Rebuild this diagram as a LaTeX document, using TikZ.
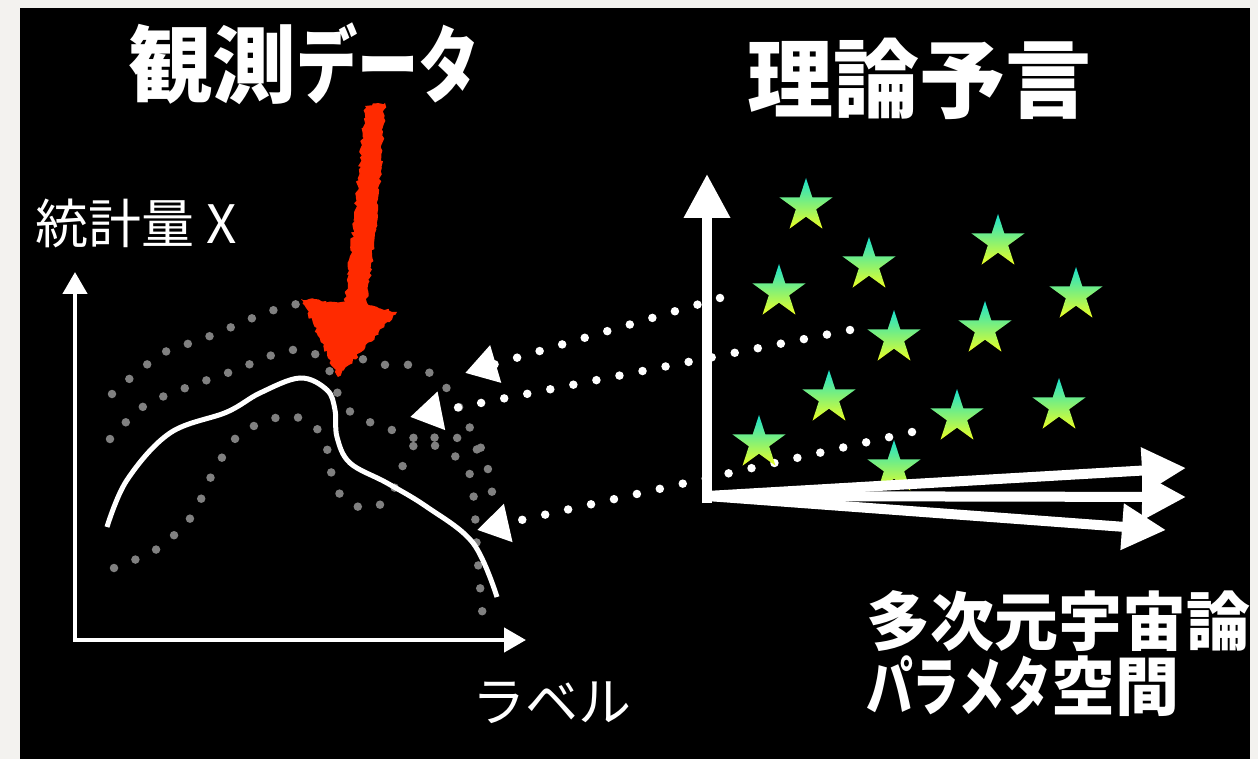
\documentclass[tikz,border=0pt]{standalone}
\usepackage{fontspec}
\usepackage{tikz}
\usetikzlibrary{arrows.meta}
\usetikzlibrary{shapes.geometric}
\usetikzlibrary{decorations.pathmorphing}
\usetikzlibrary{calc}

\newfontfamily\jpfont{Noto Sans CJK JP}
\newcommand{\narrowkana}[1]{\scalebox{0.73}[1]{#1}}

\definecolor{paper}{RGB}{243,242,239}
\definecolor{chalkred}{RGB}{255,42,0}
\definecolor{dotgray}{RGB}{128,128,128}
\definecolor{startop}{RGB}{25,225,205}
\definecolor{starbot}{RGB}{235,255,35}

\tikzset{
  bigtitle/.style={text=white, inner sep=0pt, font=\jpfont\bfseries\fontsize{84}{84}\selectfont},
  axistext/.style={text=white, inner sep=0pt, font=\jpfont\fontsize{53}{53}\selectfont},
  starnode/.style={star, star points=5, star point ratio=2.618, minimum size=56pt,
    inner sep=0pt, top color=startop, bottom color=starbot},
  graydots/.style={dotgray, line width=8.5pt, line cap=round, dash pattern=on 0pt off 23pt},
  whitedots/.style={white, line width=8.5pt, line cap=round, dash pattern=on 0pt off 23.5pt,
    -{Triangle[length=32pt,width=37pt]}},
  thinaxis/.style={white, line width=4.5pt, line cap=rect, -{Triangle[length=22pt,width=24pt]}},
  fataxis/.style={white, line width=10pt, -{Triangle[length=44pt,width=44pt]}},
}

\begin{document}
\begin{tikzpicture}[x=1pt, y=-1pt]
\useasboundingbox (0,0) rectangle (1258,759);
\fill[paper] (0,0) rectangle (1258,759);
\fill[black] (20,8) rectangle (1250,759);

%model curves
\draw[graydots] plot[smooth] coordinates {(112,394) (140,370) (167,351) (200,340) (234,326)
  (268,312) (302,304) (330,318) (350,350) (375,364) (410,365) (433,375) (452,395) (470,428) (482,450)};
\draw[graydots] plot[smooth] coordinates {(110,439) (144,406) (188,387) (233,371) (278,353)
  (302,350) (323,359) (333,380) (342,403) (360,418) (403,434) (447,451) (468,470) (474,500)
  (477,550) (483,620)};
\draw[graydots] plot[smooth] coordinates {(114,568) (157,549) (192,516) (213,473) (240,434)
  (284,416) (312,424) (326,445) (334,484) (349,503) (371,508) (391,495) (409,451) (426,440)
  (449,436) (470,444) (486,462) (494,506)};

%data
\draw[white, line width=5pt] plot[smooth, tension=0.6] coordinates {(107,527) (127,480)
  (170,433) (227,412) (260,393) (300,378) (327,390) (335,410) (337,437) (350,463)
  (387,483) (427,507) (473,543) (497,597)};

%statistic vs label
\coordinate (lo) at (75,640);
\coordinate (ly) at (75,272);
\coordinate (lx) at (526,640);
\draw[thinaxis] (lo) -- (ly);
\draw[thinaxis] (lo) -- (lx);
\node[axistext] (stat) at (136,223) {統計量 X};
\node[axistext] (lab) at (552,703) {ラベル};

%predictions
\foreach \a/\b/\c/\d [count=\i] in {720/298/465/373, 850/330/410/417, 912/432/477/530} {
  \coordinate (f\i) at (\a,\b);
  \coordinate (t\i) at (\c,\d);
  \draw[whitedots] (f\i) -- (t\i);
}

%parameter space
\foreach \x/\y [count=\i] in {806/206, 869/265, 998/242, 779/292, 1076/295, 894/338,
  985/329, 829/398, 1059/406, 957/417, 759/443, 894/468} {
  \node[starnode] (s\i) at (\x,\y) {};
}

\coordinate (o) at (707,496);
\coordinate (oy) at (707,174);
\coordinate (ox1) at (1186,468);
\coordinate (ox2) at (1186,497);
\coordinate (ox3) at (1166,530);
\draw[fataxis] (707,503) -- (oy);
\foreach \i in {1,2,3} {
  \draw[fataxis] (o) -- (ox\i);
}

%observation
\fill[chalkred, decorate, decoration={random steps, segment length=3pt, amplitude=1.8pt}]
  (365,106) -- (385,103) -- (378,210) -- (367,303) -- (397,312) -- (338,377)
  -- (301,299) -- (345,303) -- (355,210) -- cycle;

\node[bigtitle] (obs) at (304,64) {観測\narrowkana{データ}};
\node[bigtitle, font=\jpfont\bfseries\fontsize{86}{86}\selectfont] (theory) at (919,79) {理論予言};
\node[bigtitle, font=\jpfont\bfseries\fontsize{64}{65}\selectfont, align=left, anchor=north west]
  (space) at (866,590) {多次元宇宙論\\\narrowkana{パラメタ}空間};
\end{tikzpicture}
\end{document}
